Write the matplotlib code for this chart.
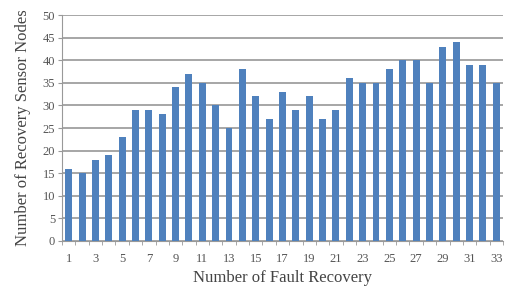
import matplotlib
matplotlib.use('Agg')
import matplotlib.pyplot as plt
import numpy as np

# dados
recoveries = list(range(1, 34))
nodes = [16, 15, 18, 19, 23, 29, 29, 28, 34, 37, 35, 30, 25, 38, 32, 27, 33,
         29, 32, 27, 29, 36, 35, 35, 38, 40, 40, 35, 43, 44, 39, 39, 35]
yticks = list(range(0, 51, 5))

plt.rcParams['font.family'] = ['Liberation Serif', 'DejaVu Serif']

fig = plt.figure(figsize=(5.06, 2.91), dpi=100)
ax1 = fig.add_axes([0.1225, 0.172, 0.8715, 0.776])

ax1.bar(recoveries, nodes, width=0.52, color='#4f81bd', zorder=3)

ax1.set_xlim(0.5, 33.5)
ax1.set_ylim(0, 50)
ax1.set_yticks(yticks)
ax1.set_xticks(recoveries[::2])
ax1.set_xticks(np.arange(0.5, 34, 1), minor=True)
ax1.tick_params(axis='x', which='major', length=0, pad=9, labelsize=9, colors='#555555')
ax1.tick_params(axis='x', which='minor', length=3, color='#999999')
ax1.tick_params(axis='y', length=3, color='#999999', labelsize=9, colors='#555555', pad=2)

ax1.grid(True, axis='y', color='#a6a6a6', linewidth=1.4, zorder=0)
for s in ['top', 'right']:
    ax1.spines[s].set_visible(False)
ax1.spines['left'].set_color('#999999')
ax1.spines['bottom'].set_color('#999999')

ax1.set_xlabel('Number of Fault Recovery', fontsize=12, color='#444444', labelpad=3)
ax1.set_ylabel('Number of Recovery Sensor Nodes', fontsize=12, color='#444444', labelpad=8)

plt.savefig('out.png', dpi=100)
